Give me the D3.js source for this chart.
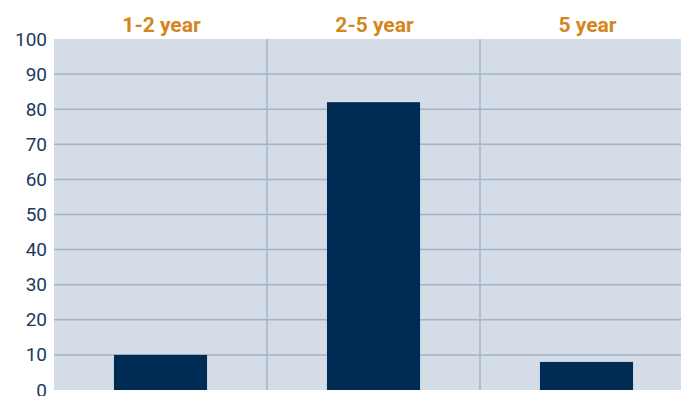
<!DOCTYPE html>
<html>
<head>
<meta charset="utf-8">
<script src="https://cdn.jsdelivr.net/npm/d3@7"></script>
<style>
  html, body { margin: 0; padding: 0; background: #ffffff; }
  svg { display: block; }
</style>
</head>
<body>
<svg id="chart" width="681" height="396"></svg>
<script>
// Share of respondents by time horizon
const categories = ["1-2 year", "2-5 year", "5 year"];
const values = [10, 82, 8];
const yTicks = [0, 10, 20, 30, 40, 50, 60, 70, 80, 90, 100];

const svg = d3.select("#chart");
const plotLeft = 54, plotRight = 693, plotTop = 39, plotBottom = 390;

const x = d3.scaleBand()
  .domain(categories)
  .range([plotLeft, plotRight])
  .paddingInner(0)
  .paddingOuter(0);

const y = d3.scaleLinear().domain([0, 100]).range([plotBottom, plotTop]);

// plot background
svg.append("rect")
  .attr("x", plotLeft).attr("y", plotTop)
  .attr("width", plotRight - plotLeft).attr("height", plotBottom - plotTop)
  .attr("fill", "#d4dce8");

// horizontal gridlines
svg.append("g")
  .selectAll("line")
  .data(yTicks.filter(d => d > 0 && d < 100))
  .join("line")
  .attr("x1", plotLeft).attr("x2", plotRight)
  .attr("y1", d => y(d)).attr("y2", d => y(d))
  .attr("stroke", "#a2b3c9")
  .attr("stroke-width", 1.5);

// vertical separators between categories
svg.append("g")
  .selectAll("line")
  .data(categories.slice(1))
  .join("line")
  .attr("x1", d => x(d)).attr("x2", d => x(d))
  .attr("y1", plotTop).attr("y2", plotBottom)
  .attr("stroke", "#a7b6ca")
  .attr("stroke-width", 1.5);

// bars
const barW = x.bandwidth() * 0.437;
svg.append("g")
  .selectAll("rect")
  .data(categories.map((c, i) => ({ c, v: values[i] })))
  .join("rect")
  .attr("x", d => x(d.c) + (x.bandwidth() - barW) / 2)
  .attr("y", d => y(d.v))
  .attr("width", barW)
  .attr("height", d => y(0) - y(d.v))
  .attr("fill", "#002b54");

// y axis labels
const yAxis = d3.axisLeft(y).tickValues(yTicks).tickSize(0).tickPadding(7);
const ga = svg.append("g").attr("transform", `translate(${plotLeft},0)`).call(yAxis);
ga.select(".domain").remove();
ga.selectAll("text")
  .attr("font-family", "Roboto, 'DejaVu Sans', sans-serif")
  .attr("font-size", 19)
  .attr("fill", "#1c3a60");

// category labels above plot
svg.append("g")
  .selectAll("text")
  .data(categories)
  .join("text")
  .attr("x", d => x(d) + x.bandwidth() / 2 + 1)
  .attr("y", 32)
  .attr("text-anchor", "middle")
  .attr("font-family", "Roboto, 'DejaVu Sans', sans-serif")
  .attr("font-weight", "bold")
  .attr("font-size", 21)
  .attr("fill", "#d4861e")
  .text(d => d);
</script>
</body>
</html>
